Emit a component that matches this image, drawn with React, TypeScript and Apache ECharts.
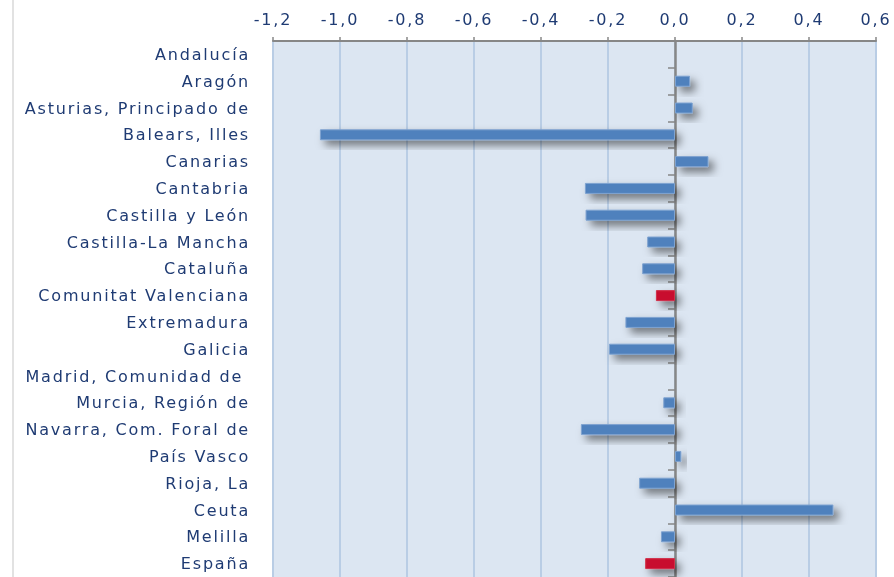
import React, { useEffect, useRef } from "react";
import * as echarts from "echarts";

const categories = [
  "Andalucía",
  "Aragón",
  "Asturias, Principado de",
  "Balears, Illes",
  "Canarias",
  "Cantabria",
  "Castilla y León",
  "Castilla-La Mancha",
  "Cataluña",
  "Comunitat Valenciana",
  "Extremadura",
  "Galicia",
  "Madrid, Comunidad de ",
  "Murcia, Región de",
  "Navarra, Com. Foral de",
  "País Vasco",
  "Rioja, La",
  "Ceuta",
  "Melilla",
  "España",
];

const values = [
  0.0, 0.045, 0.053, -1.06, 0.1, -0.269, -0.267, -0.083, -0.098, -0.057,
  -0.148, -0.197, 0.0, -0.035, -0.281, 0.019, -0.107, 0.473, -0.042, -0.089,
];

const highlighted = ["Comunitat Valenciana", "España"];

const xTicks = { min: -1.2, max: 0.6, interval: 0.2 };

const BLUE = "#4F81BD";
const RED = "#C8102E";
const TEXT = "#1F3B73";
const FONT = "'DejaVu Sans', sans-serif";

export default function App() {
  const ref = useRef<HTMLDivElement>(null);

  useEffect(() => {
    if (!ref.current) return;
    const chart = echarts.init(ref.current, null, { renderer: "svg" });
    chart.setOption({
      animation: false,
      graphic: [
        {
          type: "rect",
          left: 12,
          top: 0,
          shape: { width: 2, height: 577 },
          style: { fill: "#E2E2E2" },
          silent: true,
        },
      ],
      grid: {
        left: 273,
        right: 18,
        top: 41,
        bottom: -5.5,
        show: true,
        backgroundColor: "#DCE6F2",
        borderWidth: 0,
      },
      xAxis: {
        type: "value",
        position: "top",
        min: xTicks.min,
        max: xTicks.max,
        interval: xTicks.interval,
        axisLine: { show: true, lineStyle: { color: "#878787", width: 2 } },
        axisTick: { show: true, length: 4, lineStyle: { color: "#878787", width: 1.5 } },
        splitLine: { show: true, lineStyle: { color: "#B9CDE5", width: 2 } },
        axisLabel: {
          color: TEXT,
          fontFamily: FONT,
          fontSize: 16,
          margin: 14,
          formatter: (v: number) => v.toFixed(1).replace(".", ","),
        },
      },
      yAxis: [
        {
          type: "category",
          data: categories,
          inverse: true,
          position: "left",
          axisLine: { show: false, onZero: false },
          axisTick: { show: false },
          splitLine: { show: false },
          axisLabel: {
            color: TEXT,
            fontFamily: FONT,
            fontSize: 16,
            margin: 23,
            interval: 0,
          },
        },
        {
          type: "category",
          data: categories,
          inverse: true,
          position: "left",
          axisLine: { show: true, onZero: true, lineStyle: { color: "#878787", width: 2.5 } },
          axisTick: { show: true, length: 7, lineStyle: { color: "#878787", width: 1.5 } },
          splitLine: { show: false },
          axisLabel: { show: false },
        },
      ],
      series: [
        {
          type: "bar",
          yAxisIndex: 0,
          barWidth: 11,
          data: values.map((v, i) => {
            const red = highlighted.includes(categories[i]);
            return {
              value: v,
              itemStyle: {
                color: red ? RED : BLUE,
                borderColor: red ? "#D0304A" : "#7FA3D0",
                borderWidth: 1,
                shadowBlur: 8,
                shadowOffsetX: 5,
                shadowOffsetY: 5,
                shadowColor: "rgba(0,0,0,0.5)",
              },
            };
          }),
        },
      ],
    });
    return () => chart.dispose();
  }, []);

  return (
    <>
      <style>{`.chart-box text { letter-spacing: 1.8px; }`}</style>
      <div
        ref={ref}
        className="chart-box"
        style={{ position: "fixed", left: 0, top: 0, width: 894, height: 577 }}
      />
    </>
  );
}
